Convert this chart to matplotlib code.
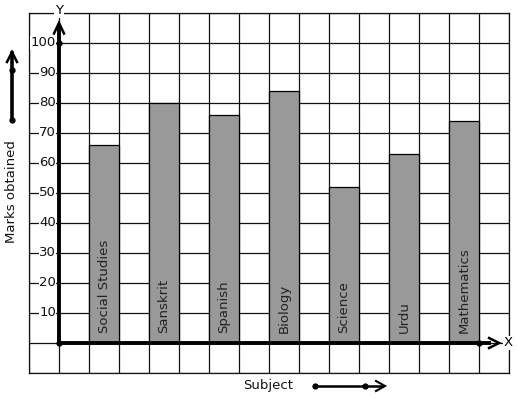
import matplotlib
matplotlib.use("Agg")
import matplotlib.pyplot as plt

subjects = ["Social Studies", "Sanskrit", "Spanish", "Biology", "Science", "Urdu", "Mathematics"]
marks = [66, 80, 76, 84, 52, 63, 74]
ytick_vals = [10, 20, 30, 40, 50, 60, 70, 80, 90, 100]

W, H = 517, 399
fig = plt.figure(figsize=(W / 100, H / 100), dpi=100)
ax = fig.add_axes([29 / W, (H - 373) / H, 480 / W, 360 / H])
ax.set_xlim(-1, 15)
ax.set_ylim(-10, 110)
ax.set_xticks(range(-1, 16))
ax.set_yticks(range(-10, 111, 10))
ax.grid(True, color="#111111", linewidth=0.9)
ax.set_axisbelow(True)
ax.tick_params(length=0, labelleft=False, labelbottom=False)
for s in ax.spines.values():
    s.set_linewidth(0.9)
    s.set_color("#111111")

xs = [1.5 + 2 * i for i in range(len(subjects))]
ax.bar(xs, marks, width=1.0, color="#999999", edgecolor="black", linewidth=0.9, zorder=3)
fs = 9.5
for x, name in zip(xs, subjects):
    ax.text(x, 3.3, name, rotation=90, ha="center", va="bottom", fontsize=fs,
            color="#222222", zorder=4)

for v in ytick_vals:
    ax.text(-0.1, v, str(v), ha="right", va="center", fontsize=fs, zorder=4,
            color="#111111", bbox=dict(facecolor="white", edgecolor="none", pad=0.3))

# pixel helpers (axes data: 30 px per cell horizontally, 3 px per unit vertically)
dx = 1 / 30.0
dy = 1 / 3.0

# Y axis
ax.plot([0, 0], [0, 106.5], color="black", lw=2.8, zorder=5, solid_capstyle="butt")
ax.plot([-5 * dx, 0, 5 * dx], [106.5 - 10 * dy, 106.7, 106.5 - 10 * dy], color="black",
        lw=1.8, zorder=5, clip_on=False, solid_joinstyle="miter")
# X axis
ax.plot([0, 14.4], [0, 0], color="black", lw=2.8, zorder=5, solid_capstyle="butt")
ax.plot([14.67 - 10 * dx, 14.67, 14.67 - 10 * dx], [5 * dy, 0, -5 * dy], color="black",
        lw=1.8, zorder=5, clip_on=False, solid_joinstyle="miter")
ax.plot([0, 0, 14], [0, 100, 0], "o", color="black", ms=3.5, zorder=6)
ax.text(0, 110.7, "Y", ha="center", va="center", fontsize=fs, zorder=6,
        bbox=dict(facecolor="white", edgecolor="none", pad=0.5), clip_on=False)
ax.text(14.97, 0, "X", ha="center", va="center", fontsize=fs, zorder=6,
        bbox=dict(facecolor="white", edgecolor="none", pad=0.3), clip_on=False)

def fx(px):
    return px / W

def fy(py):
    return 1 - py / H

# left vertical arrow
fig.add_artist(plt.Line2D([fx(12), fx(12)], [fy(120), fy(53)], color="black", lw=2.6))
fig.add_artist(plt.Line2D([fx(7), fx(12), fx(17)], [fy(62), fy(52), fy(62)], color="black",
                          lw=1.8, solid_joinstyle="miter"))
fig.add_artist(plt.Line2D([fx(12), fx(12)], [fy(70), fy(120)], ls="", marker="o", ms=3.5, color="black"))
fig.text(fx(12), fy(192), "Marks obtained", rotation=90, ha="center", va="center", fontsize=fs,
         color="#111111")

# bottom arrow
fig.text(fx(268), fy(385), "Subject", ha="center", va="center", fontsize=fs, color="#111111")
fig.add_artist(plt.Line2D([fx(315), fx(382)], [fy(386), fy(386)], color="black", lw=1.8))
fig.add_artist(plt.Line2D([fx(376), fx(385), fx(376)], [fy(381), fy(386), fy(391)], color="black",
                          lw=1.5, solid_joinstyle="miter"))
fig.add_artist(plt.Line2D([fx(315), fx(365)], [fy(386), fy(386)], ls="", marker="o", ms=3.5, color="black"))

fig.savefig("out.png", dpi=100)
